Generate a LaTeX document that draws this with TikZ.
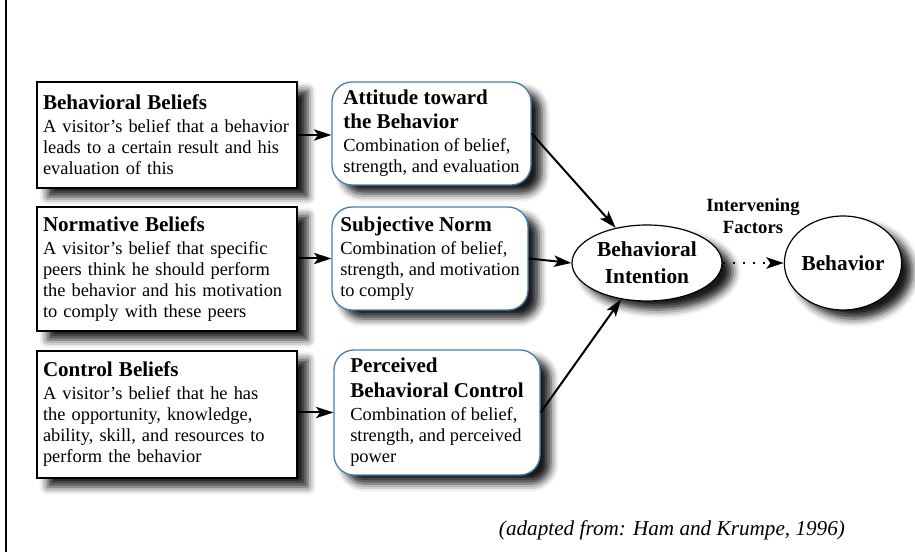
\documentclass[tikz,border=0pt]{standalone}
\usepackage{fontspec}
\setmainfont{Liberation Serif}
\usepackage{tikz}
\usetikzlibrary{arrows.meta,shadows.blur,shapes.geometric}

\definecolor{boxblue}{RGB}{70,128,178}
\newcommand{\hd}[1]{{\fontsize{15.8}{17}\selectfont\bfseries #1}}

\tikzset{
  shadowed/.style={blur shadow={shadow xshift=8pt,shadow yshift=-6.5pt,
      shadow blur radius=6pt,shadow opacity=90}},
  belief/.style={draw,line width=0.9pt,fill=white,shadowed,align=left,
      font=\fontsize{13.8}{15.75}\selectfont,text width=186pt,inner xsep=4.5pt},
  component/.style={draw=boxblue,line width=1pt,fill=white,shadowed,
      rounded corners=15pt,align=left,font=\fontsize{13.8}{15.75}\selectfont},
  outcome/.style={ellipse,draw,line width=0.9pt,fill=white,shadowed,
      align=center,font=\fontsize{16}{17}\selectfont\bfseries},
  link/.style={line width=1.5pt,-{Stealth[length=13pt,width=8.5pt,inset=3pt]}}
}

\begin{document}
\begin{tikzpicture}[x=0.75pt,y=-0.75pt]
\useasboundingbox (0,0) rectangle (915,552);
\draw [line width=1.5pt] (6,0) -- (6,552);

\node [belief,minimum height=79.5pt] (bb) at (167,135) {\hd{Behavioral Beliefs}\\[1.5pt]
A visitor’s belief that a behavior\\ leads to a certain result and his\\ evaluation of this};
\node [belief,minimum height=93pt] (nb) at (167,269) {\hd{Normative Beliefs}\\[1.5pt]
A visitor’s belief that specific\\ peers think he should perform\\ the behavior and his motivation\\ to comply with these peers};
\node [belief,minimum height=95.25pt] (cb) at (167,414.5) {\hd{Control Beliefs}\\[1.5pt]
A visitor’s belief that he has\\ the opportunity, knowledge,\\ ability, skill, and resources to\\ perform the behavior};

\node [component,minimum width=149.25pt,minimum height=77.25pt] (att) at (431.5,133.5) {\hd{Attitude toward}\\[2.25pt] \hd{the Behavior}\\[1.5pt]
Combination of belief,\\ strength, and evaluation};
\node [component,minimum width=147pt,minimum height=77.25pt] (sub) at (430,258.5) {\hd{Subjective Norm}\\[1.5pt]
Combination of belief,\\ strength, and motivation\\ to comply};
\node [component,minimum width=154.5pt,minimum height=93.75pt] (pbc) at (437,412.5) {\hd{Perceived}\\[3pt] \hd{Behavioral Control}\\[1.5pt]
Combination of belief,\\ strength, and perceived\\ power};

\node [outcome,minimum width=112.5pt,minimum height=57pt,inner sep=0pt] (bi) at (647,263) {Behavioral\\[3pt] Intention};
\node [outcome,minimum width=81.75pt,minimum height=70.5pt,inner sep=0pt] (beh) at (843,263) {Behavior};

\node [font=\fontsize{14}{16.5}\selectfont\bfseries,align=center] (ivf) at (753,216) {Intervening\\ Factors};

\draw [link] (bb.east) -- (bb.east -| att.west);
\draw [link] (sub.west -| nb.east) -- (sub.west);
\draw [link] (pbc.west -| cb.east) -- (pbc.west);
\draw [link] (att.east) -- (bi);
\draw [link] (sub.east) -- (bi.west);
\draw [link] (pbc.east) -- (bi);
\draw [link,line width=1.8pt,dash pattern=on 1.8pt off 5.7pt] (bi.east) -- (beh.west);

\node [font=\fontsize{15.9}{18}\selectfont\itshape] (src) at (672,530) {(adapted from: Ham and Krumpe, 1996)};
\end{tikzpicture}
\end{document}
